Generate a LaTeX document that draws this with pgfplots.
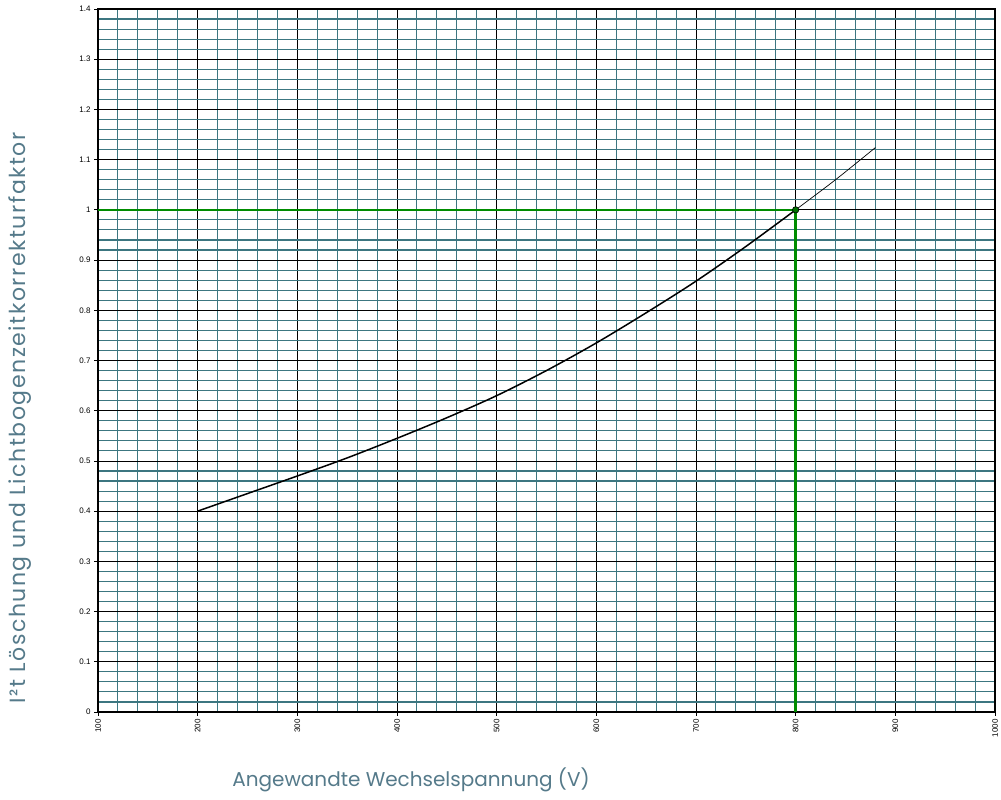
\documentclass[border=0pt]{standalone}
\usepackage{pgfplots}
\pgfplotsset{compat=1.18}
\usepackage{fontspec}
\setmainfont{Liberation Sans}
\newfontfamily\labelfont{Poppins}
\newfontfamily\ylabelfont[LetterSpace=7]{Poppins}
\definecolor{gridteal}{RGB}{60,118,128}
\definecolor{labcol}{RGB}{85,122,138}
\definecolor{dgreen}{RGB}{0,140,0}
\begin{document}
\begin{tikzpicture}
\path[use as bounding box] (-98pt,-88pt) rectangle (903pt,712pt);
\begin{axis}[
  at={(0,0)}, anchor=south west,
  scale only axis, width=897pt, height=703pt,
  xmin=100, xmax=1000, ymin=0, ymax=1.4,
  xtick={100,200,300,400,500,600,700,800,900,1000},
  ytick={0,0.1,0.2,0.3,0.4,0.5,0.6,0.7,0.8,0.9,1,1.1,1.2,1.3,1.4},
  minor x tick num=4, minor y tick num=4,
  grid=both,
  minor grid style={color=gridteal, line width=1.1pt},
  major grid style={color=black, line width=0.8pt},
  axis line style={line width=1.2pt},
  tick align=outside, major tick length=4pt, minor tick length=0pt,
  tick style={black, line width=0.8pt},
  xtick pos=bottom, ytick pos=left,
  tick label style={font=\fontsize{8}{9}\selectfont},
  /pgf/number format/assume math mode=true,
  /pgf/number format/1000 sep={},
  xticklabel style={rotate=90, anchor=east},
  clip=false,
]
\addplot[black, line width=1.5pt, smooth] coordinates {
(200,0.400) (250,0.435) (300,0.470) (350,0.506) (400,0.545) (450,0.586) (500,0.630) (550,0.680) (600,0.735) (650,0.795) (700,0.858) (750,0.927) (800,1.000)};
\addplot[black, line width=0.7pt, smooth] coordinates {
(800,1.000) (840,1.060) (880,1.124)};
\addplot[dgreen, line width=2.6pt] coordinates {(100,1) (800,1) (800,0)};
\addplot[only marks, mark=*, mark size=3.2pt, mark options={fill=dgreen!80!black, draw=black, line width=0.6pt}] coordinates {(800,1)};
\end{axis}
\node[labcol, font=\labelfont\fontsize{20}{23}\selectfont] at (313pt,-68pt) {Angewandte Wechselspannung (V)};
\node[labcol, rotate=90, font=\ylabelfont\fontsize{22}{25}\selectfont] at (-78pt,294pt) {I²t Löschung und Lichtbogenzeitkorrekturfaktor};
\end{tikzpicture}
\end{document}
